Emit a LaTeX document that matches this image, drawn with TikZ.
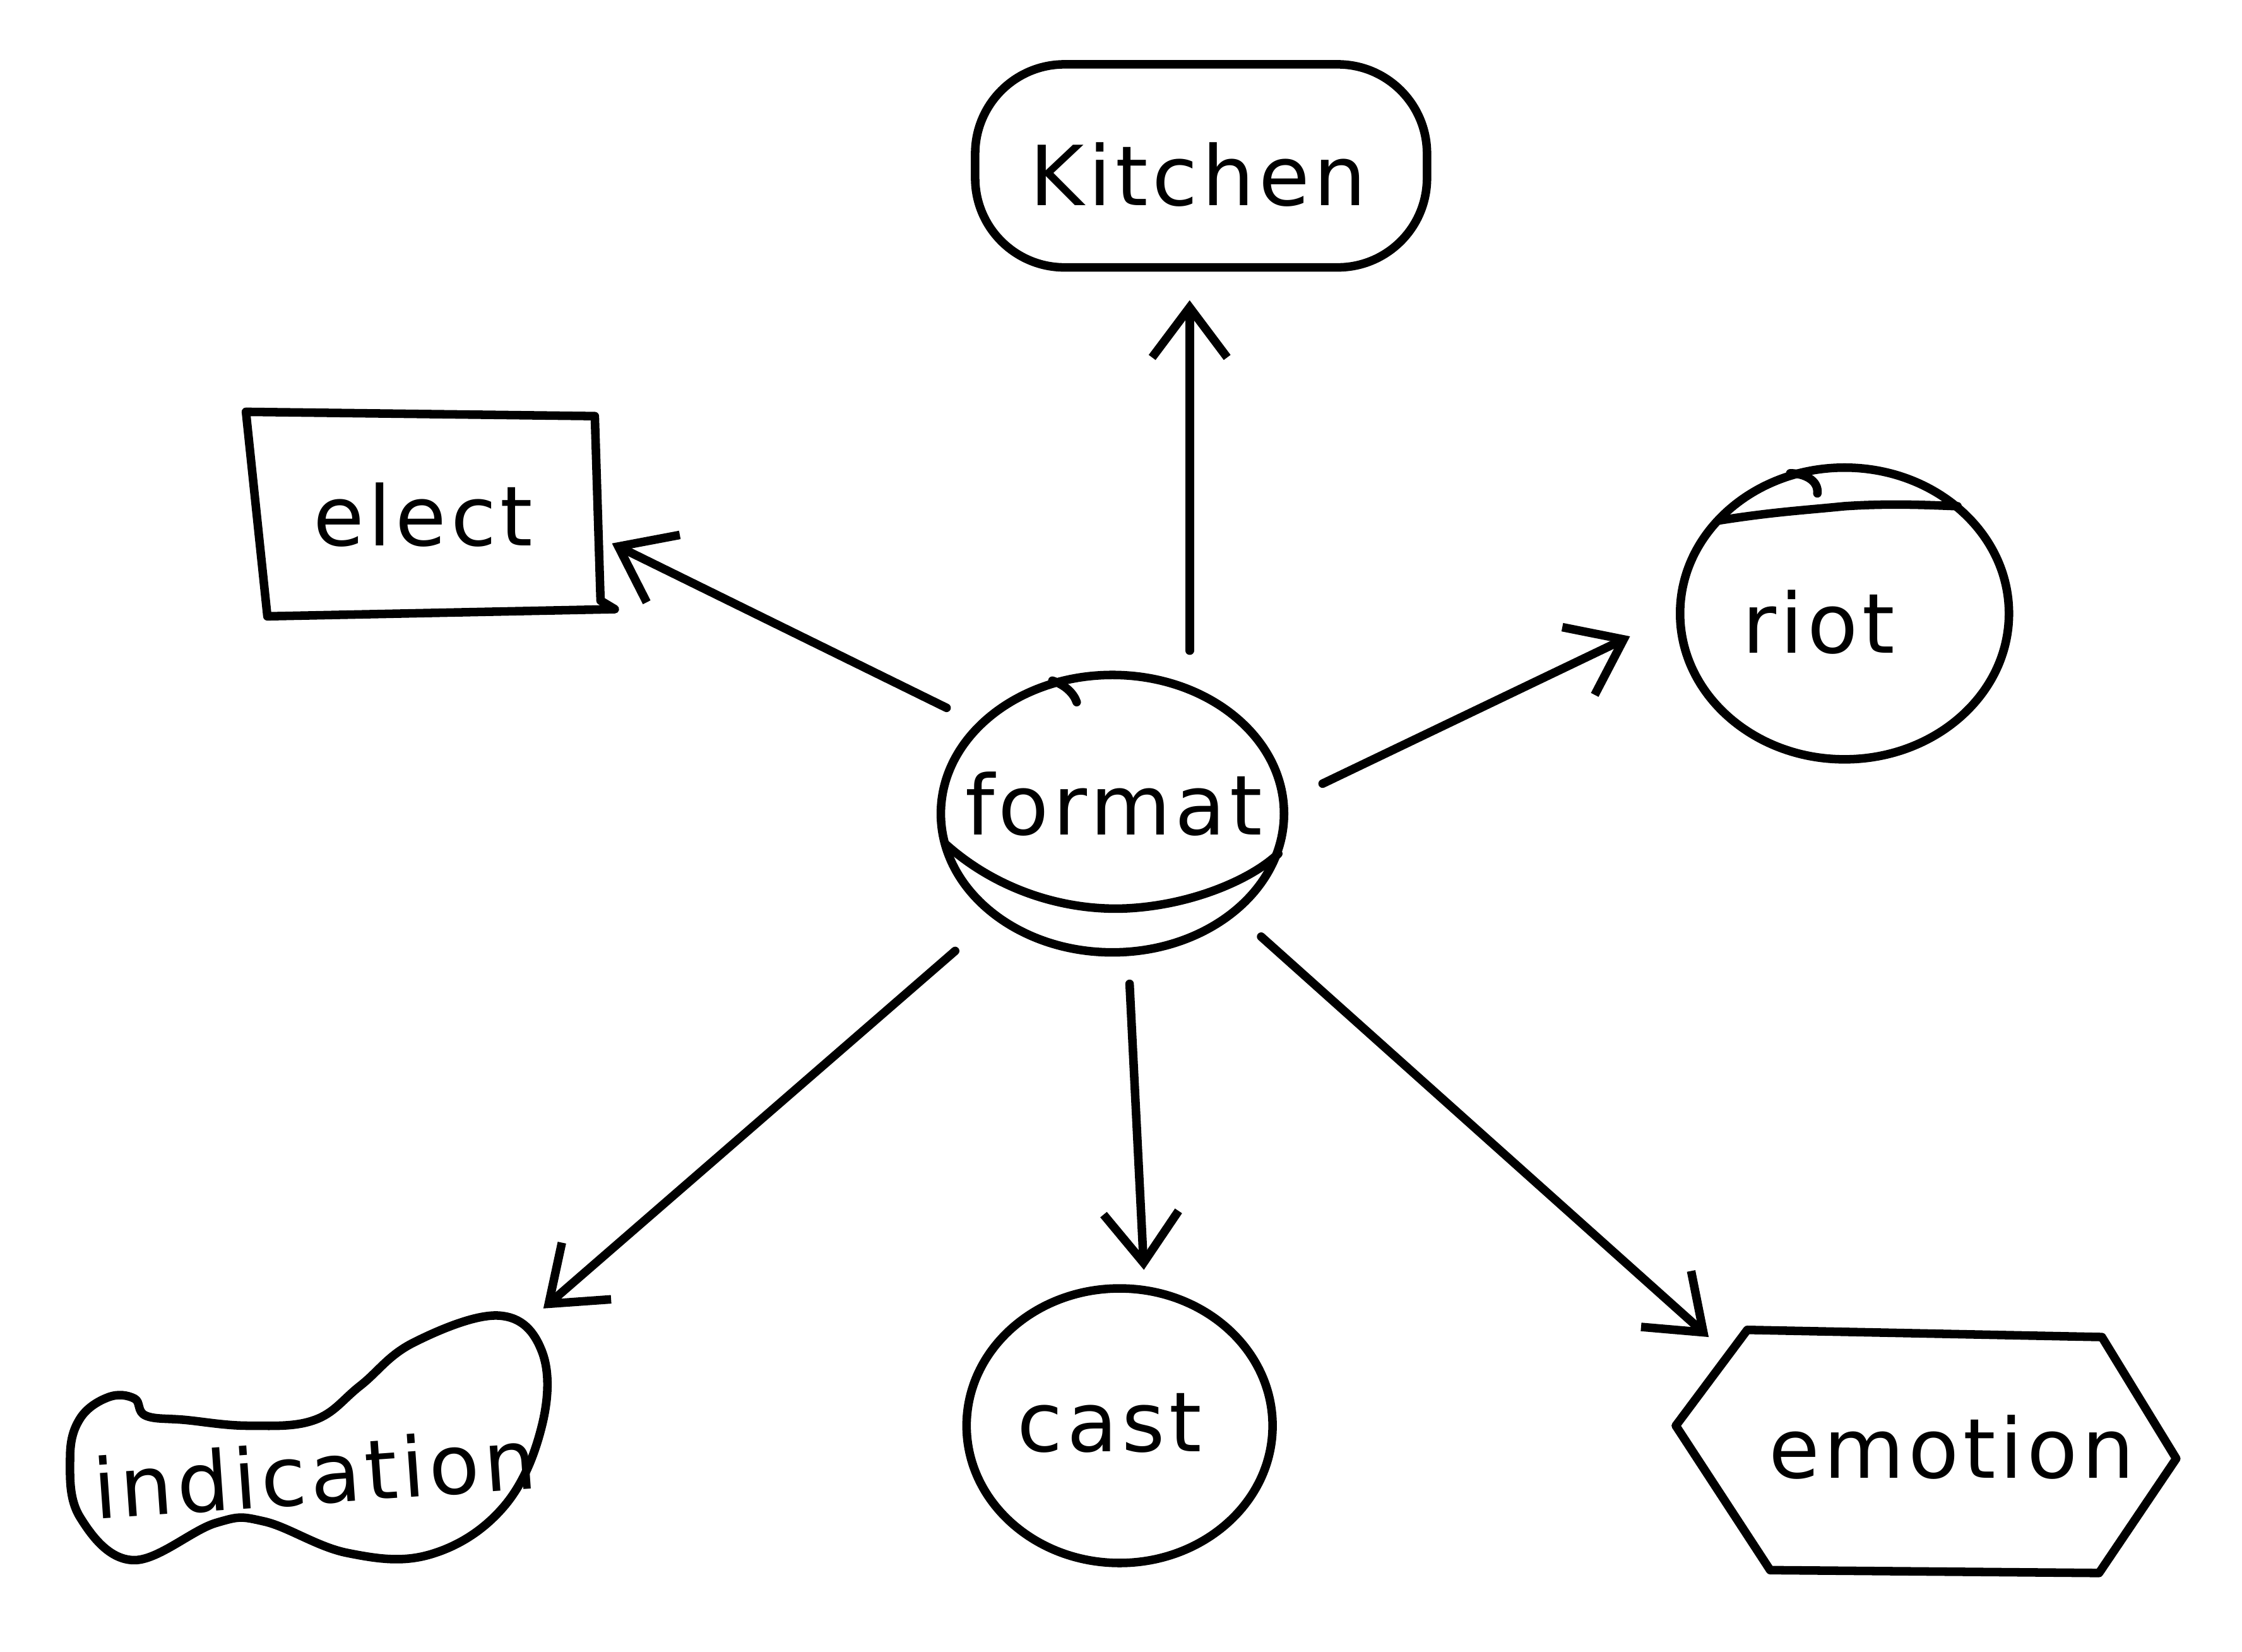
\documentclass[tikz,border=0pt]{standalone}
\usepackage{fontspec}
\newfontfamily\handfont[LetterSpace=5]{DejaVu Sans}
\usetikzlibrary{arrows.meta,calc}
\tikzset{
  outline/.style={line width=3.4pt, line join=round, line cap=round},
  lbl/.style={font=\handfont\fontsize{33}{40}\selectfont, inner sep=0pt},
  arr/.style={line width=3.4pt, line cap=round, -{Straight Barb[length=0.7cm,width=1.05cm,line width=3.4pt]}}
}
\begin{document}
\begin{tikzpicture}[x=0.02cm,y=-0.02cm]
\useasboundingbox[fill=white] (0,0) rectangle (1568,1155);

% text nodes
\node[lbl] (kitchen) at (838,122) {Kitchen};
\node[lbl] (elect) at (296,360) {elect};
\node[lbl] (riot) at (1272,435) {riot};
\node[lbl] (format) at (779,562) {format};
\node[lbl, rotate=4] (indication) at (220,1030) {indication};
\node[lbl] (cast) at (776,995) {cast};
\node[lbl] (emotion) at (1365,1012) {emotion};

% outlines
\draw[outline, rounded corners=1.25cm] (682,45) rectangle (998,187);
\draw[outline] (172,288) -- (416,291) -- (420,420) -- (430,426) -- (187,431) -- cycle;
% riot
\draw[outline] (1290,429) ellipse [x radius=115, y radius=102];
\draw[outline] (1202,364) .. controls (1240,358) and (1260,357) .. (1290,354) .. controls (1320,352) and (1345,353) .. (1369,354);
\draw[outline] (1252,331) .. controls (1262,331) and (1272,336) .. (1271,345);
% format
\draw[outline] (778,569) ellipse [x radius=120, y radius=97];
\draw[outline] (661,590) .. controls (700,625) and (750,638) .. (792,635) .. controls (835,632) and (875,615) .. (894,597);
\draw[outline] (736,476) .. controls (745,479) and (751,485) .. (753,491);
% cast
\draw[outline] (783,997) ellipse [x radius=107, y radius=96];
% emotion
\draw[outline] (1172,997) -- (1222,930) -- (1470,935) -- (1522,1020) -- (1468,1100) -- (1238,1098) -- cycle;
% indication
\draw[outline] plot[smooth cycle, tension=0.65] coordinates {(56,992) (76,977) (94,978) (102,990) (130,993) (174,997) (220,993) (252,969) (289,939) (349,920) (379,945) (379,997) (352,1054) (301,1087) (243,1086) (185,1064) (151,1065) (93,1091) (56,1061) (49,1020)};

% connectors
\draw[arr] ($(format)+(53,-107)$) -- ($(kitchen)+(-6,88)$);
\draw[arr] ($(format)+(-117,-67)$) -- ($(elect)+(132,20)$);
\draw[arr] ($(format)+(146,-14)$) -- ($(riot)+(-132,10)$);
\draw[arr] ($(format)+(-111,103)$) -- ($(indication)+(160,-115)$);
\draw[arr] ($(format)+(11,126)$) -- ($(cast)+(24,-107)$);
\draw[arr] ($(format)+(103,93)$) -- ($(emotion)+(-170,-77)$);
\end{tikzpicture}
\end{document}
